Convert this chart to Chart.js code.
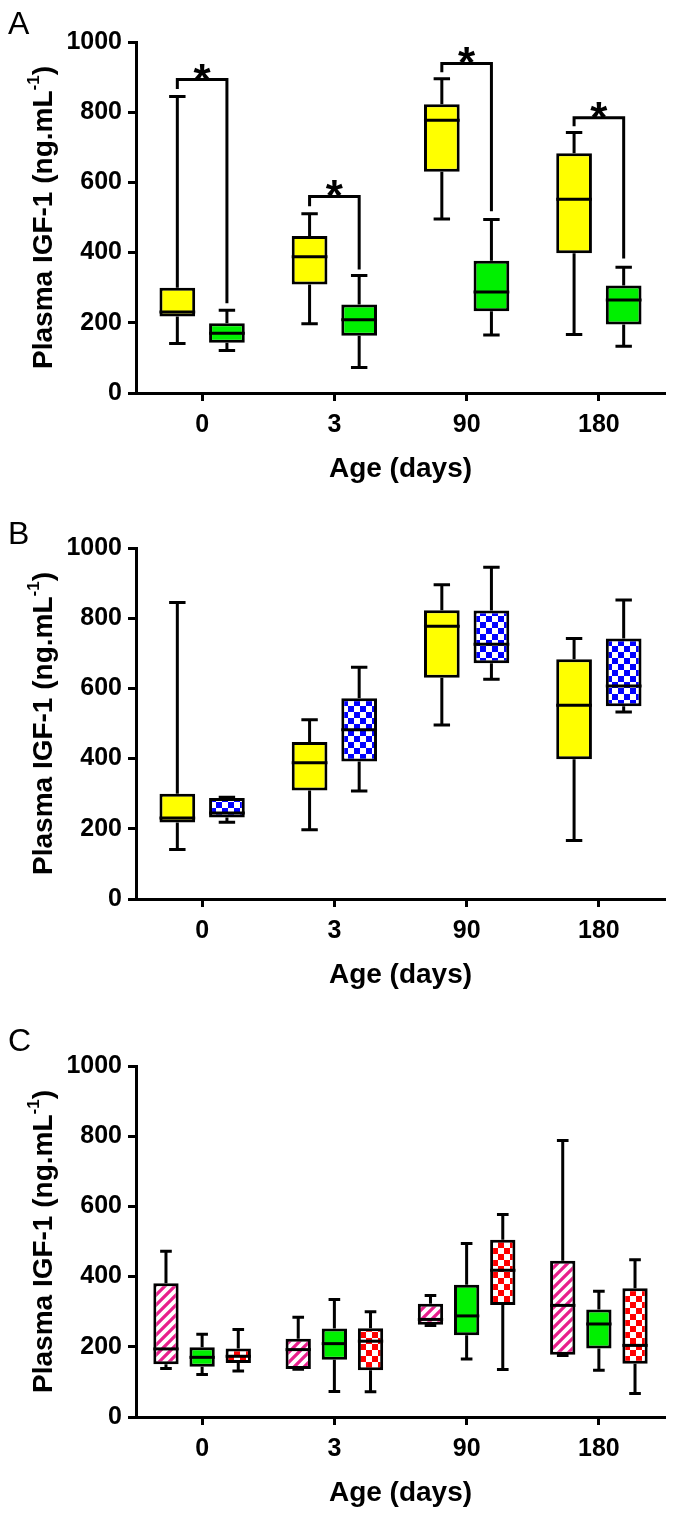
<!DOCTYPE html>
<html><head><meta charset="utf-8">
<script src="https://cdn.jsdelivr.net/npm/chart.js@4.4.1/dist/chart.umd.min.js"></script>
<style>
html,body{margin:0;padding:0;background:#fff;}
#wrap{position:relative;width:676px;height:1517px;background:#fff;}
canvas{position:absolute;left:0;}
</style></head><body>
<div id="wrap">
<canvas id="cA" width="676" height="490" style="top:0px"></canvas>
<canvas id="cB" width="676" height="506" style="top:490px"></canvas>
<canvas id="cC" width="676" height="518" style="top:996px"></canvas>
</div>
<script>
// ---------- data ----------
const categories = ['0', '3', '90', '180'];
const yTickValues = [0, 200, 400, 600, 800, 1000];

const yellowMin = [141, 197, 496, 167];
const yellowQ1  = [218, 309, 630, 398];
const yellowMed = [231, 388, 777, 552];
const yellowQ3  = [300, 447, 823, 683];
const yellowMax = [845, 511, 895, 742];

const greenMin = [121, 73, 165, 133];
const greenQ1  = [143, 163, 233, 195];
const greenMed = [170, 209, 288, 265];
const greenQ3  = [199, 252, 377, 306];
const greenMax = [236, 335, 494, 358];

const blueMin = [219, 308, 626, 533];
const blueQ1  = [232, 392, 672, 549];
const blueMed = [245, 482, 726, 607];
const blueQ3  = [288, 572, 822, 742];
const blueMax = [290, 660, 945, 852];

const pinkMin = [138, 136, 261, 175];
const pinkQ1  = [150, 137, 263, 177];
const pinkMed = [194, 192, 278, 318];
const pinkQ3  = [381, 223, 323, 445];
const pinkMax = [472, 284, 346, 788];

const redMin = [131, 72, 135, 67];
const redQ1  = [154, 133, 319, 152];
const redMed = [173, 216, 418, 204];
const redQ3  = [195, 253, 505, 367];
const redMax = [249, 300, 577, 448];

// significance brackets (panel A): bracket height, left leg end, right leg end
const sigTop      = [893, 560, 939, 784];
const sigLeftEnd  = [866, 532, 914, 760];
const sigRightEnd = [256, 352, 518, 383];

// ---------- styles ----------
const FONT = "'Liberation Sans', Arial, Helvetica, sans-serif";
const LW = 3;
const YELLOW = '#FFFF00';
const GREEN = '#00F000';

function checker(color, s) {
  const c = document.createElement('canvas');
  c.width = 2 * s; c.height = 2 * s;
  const g = c.getContext('2d');
  g.fillStyle = '#fff'; g.fillRect(0, 0, 2 * s, 2 * s);
  g.fillStyle = color;
  g.fillRect(0, 0, s, s); g.fillRect(s, s, s, s);
  return g.createPattern(c, 'repeat');
}
function stripes(color, p) {
  const c = document.createElement('canvas');
  c.width = p; c.height = p;
  const g = c.getContext('2d');
  g.fillStyle = color; g.fillRect(0, 0, p, p);
  g.strokeStyle = '#fff'; g.lineWidth = 3.8;
  g.beginPath();
  g.moveTo(-p / 2, p / 2); g.lineTo(p / 2, -p / 2);
  g.moveTo(0, p); g.lineTo(p, 0);
  g.moveTo(p / 2, p * 1.5); g.lineTo(p * 1.5, p / 2);
  g.stroke();
  return g.createPattern(c, 'repeat');
}

function stats(min, q1, med, q3, max) { return {min, q1, med, q3, max}; }

function boxDataset(st, fill, cp, bp) {
  return {
    data: st.q1.map((v, i) => [v, st.q3[i]]),
    backgroundColor: fill,
    borderColor: '#000',
    borderWidth: LW,
    borderSkipped: false,
    categoryPercentage: cp,
    barPercentage: bp,
    stats: st
  };
}

const boxPlugin = {
  id: 'boxWhiskers',
  beforeDatasetsDraw(chart) {
    const ctx = chart.ctx, ys = chart.scales.y;
    ctx.save();
    ctx.strokeStyle = '#000'; ctx.lineWidth = LW; ctx.lineCap = 'butt';
    chart.data.datasets.forEach((ds, i) => {
      const st = ds.stats;
      chart.getDatasetMeta(i).data.forEach((el, j) => {
        const x = el.x, cw = el.width * 0.46;
        const yMax = ys.getPixelForValue(st.max[j]);
        const yMin = ys.getPixelForValue(st.min[j]);
        const yQ3 = ys.getPixelForValue(st.q3[j]);
        const yQ1 = ys.getPixelForValue(st.q1[j]);
        ctx.beginPath();
        ctx.moveTo(x, yQ3); ctx.lineTo(x, yMax);
        ctx.moveTo(x - cw / 2, yMax); ctx.lineTo(x + cw / 2, yMax);
        ctx.moveTo(x, yQ1); ctx.lineTo(x, yMin);
        ctx.moveTo(x - cw / 2, yMin); ctx.lineTo(x + cw / 2, yMin);
        ctx.stroke();
      });
    });
    ctx.restore();
  },
  afterDatasetsDraw(chart) {
    const ctx = chart.ctx, ys = chart.scales.y;
    ctx.save();
    ctx.strokeStyle = '#000'; ctx.lineWidth = LW;
    chart.data.datasets.forEach((ds, i) => {
      const st = ds.stats;
      chart.getDatasetMeta(i).data.forEach((el, j) => {
        const y = ys.getPixelForValue(st.med[j]);
        ctx.beginPath();
        ctx.moveTo(el.x - el.width / 2, y); ctx.lineTo(el.x + el.width / 2, y);
        ctx.stroke();
      });
    });
    ctx.restore();
  }
};

const bracketPlugin = {
  id: 'sigBrackets',
  afterDatasetsDraw(chart) {
    if (!chart.options.plugins.sigBrackets || !chart.options.plugins.sigBrackets.show) return;
    const ctx = chart.ctx, ys = chart.scales.y;
    const m0 = chart.getDatasetMeta(0).data, m1 = chart.getDatasetMeta(1).data;
    ctx.save();
    ctx.strokeStyle = '#000'; ctx.lineWidth = LW; ctx.lineJoin = 'miter';
    ctx.fillStyle = '#000';
    ctx.font = 'bold 44px ' + FONT; ctx.textAlign = 'center'; ctx.textBaseline = 'alphabetic';
    categories.forEach((c, j) => {
      const xl = m0[j].x, xr = m1[j].x;
      const yt = ys.getPixelForValue(sigTop[j]);
      ctx.beginPath();
      ctx.moveTo(xl, ys.getPixelForValue(sigLeftEnd[j]));
      ctx.lineTo(xl, yt); ctx.lineTo(xr, yt);
      ctx.lineTo(xr, ys.getPixelForValue(sigRightEnd[j]));
      ctx.stroke();
      ctx.fillText('*', (xl + xr) / 2, yt + 15);
    });
    ctx.restore();
  }
};

const textPlugin = {
  id: 'panelText',
  afterDraw(chart) {
    const o = chart.options.plugins.panelText;
    const ctx = chart.ctx, a = chart.chartArea;
    ctx.save();
    ctx.fillStyle = '#000';
    // panel letter
    ctx.font = '32px ' + FONT; ctx.textAlign = 'left'; ctx.textBaseline = 'alphabetic';
    ctx.fillText(o.letter, 8, o.letterBaseline);
    // x title
    ctx.font = 'bold 28px ' + FONT; ctx.textAlign = 'center';
    ctx.fillText('Age (days)', (a.left + a.right) / 2, a.bottom + 84);
    // y title with superscript
    const p1 = 'Plasma IGF-1 (ng.mL', sup = '-1', p3 = ')';
    ctx.font = 'bold 28px ' + FONT; const w1 = ctx.measureText(p1).width, w3 = ctx.measureText(p3).width;
    ctx.font = 'bold 17px ' + FONT; const w2 = ctx.measureText(sup).width;
    const total = w1 + w2 + w3;
    ctx.translate(o.yTitleX, (a.top + a.bottom) / 2);
    ctx.rotate(-Math.PI / 2);
    ctx.textAlign = 'left'; ctx.textBaseline = 'middle';
    let x = -total / 2;
    ctx.font = 'bold 28px ' + FONT; ctx.fillText(p1, x, 0); x += w1;
    ctx.font = 'bold 17px ' + FONT; ctx.fillText(sup, x, -10); x += w2;
    ctx.font = 'bold 28px ' + FONT; ctx.fillText(p3, x, 0);
    ctx.restore();
  }
};

function makeChart(id, datasets, topPad, letter, letterBaseline, brackets) {
  return new Chart(document.getElementById(id), {
    type: 'bar',
    data: { labels: categories, datasets },
    options: {
      responsive: false, animation: false, devicePixelRatio: 1,
      layout: { padding: { top: topPad, right: 11, left: 0, bottom: 0 } },
      plugins: {
        legend: { display: false }, tooltip: { enabled: false }, title: { display: false },
        panelText: { letter, letterBaseline, yTitleX: 44 },
        sigBrackets: { show: brackets }
      },
      scales: {
        x: {
          grid: { display: true, drawOnChartArea: false, drawTicks: true, tickLength: 8, tickColor: '#000', tickWidth: LW, offset: false },
          border: { display: true, color: '#000', width: LW },
          ticks: { color: '#000', font: { family: FONT, size: 25, weight: 'bold' }, padding: 9, maxRotation: 0, autoSkip: false },
          afterFit(s) { s.height = 97; }
        },
        y: {
          min: 0, max: 1000,
          grid: { display: true, drawOnChartArea: false, drawTicks: true, tickLength: 8, tickColor: '#000', tickWidth: LW },
          border: { display: true, color: '#000', width: LW },
          ticks: { color: '#000', font: { family: FONT, size: 25, weight: 'bold' }, padding: 6,
                   callback: (v) => String(v) },
          afterBuildTicks(s) { s.ticks = yTickValues.map(v => ({ value: v })); },
          afterFit(s) { s.width = 136; }
        }
      }
    },
    plugins: [boxPlugin, bracketPlugin, textPlugin]
  });
}

const yellowSt = stats(yellowMin, yellowQ1, yellowMed, yellowQ3, yellowMax);
const greenSt = stats(greenMin, greenQ1, greenMed, greenQ3, greenMax);
const blueSt = stats(blueMin, blueQ1, blueMed, blueQ3, blueMax);
const pinkSt = stats(pinkMin, pinkQ1, pinkMed, pinkQ3, pinkMax);
const redSt = stats(redMin, redQ1, redMed, redQ3, redMax);

makeChart('cA', [
  boxDataset(yellowSt, YELLOW, 0.75, 0.72),
  boxDataset(greenSt, GREEN, 0.75, 0.72)
], 42, 'A', 34, true);

makeChart('cB', [
  boxDataset(yellowSt, YELLOW, 0.75, 0.72),
  boxDataset(blueSt, checker('#0000FF', 6), 0.75, 0.72)
], 58, 'B', 54, false);

makeChart('cC', [
  boxDataset(pinkSt, stripes('#E8208C', 10), 0.82, 0.7),
  boxDataset(greenSt, GREEN, 0.82, 0.7),
  boxDataset(redSt, checker('#FF0000', 6), 0.82, 0.7)
], 70, 'C', 55, false);
</script>
</body></html>
